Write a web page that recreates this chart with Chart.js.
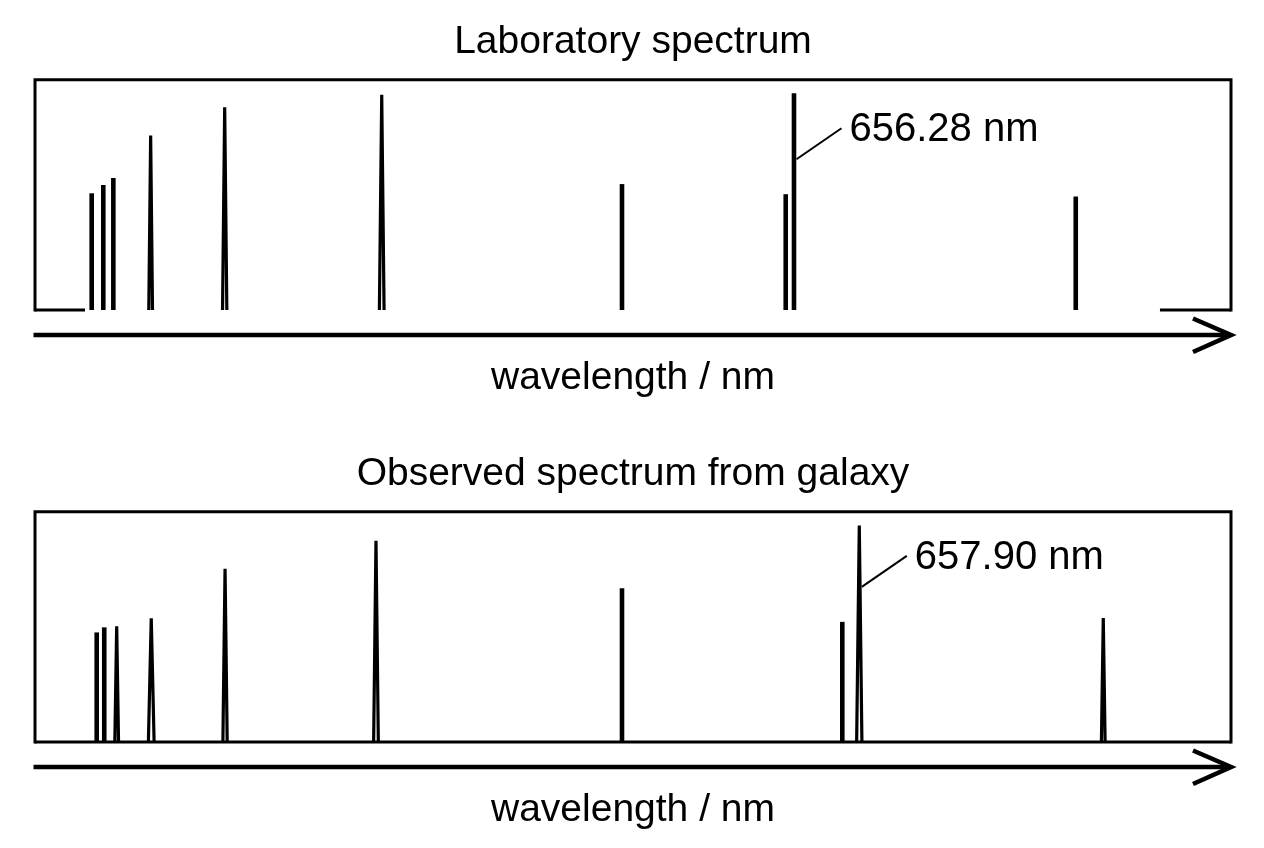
<!DOCTYPE html>
<html>
<head>
<meta charset="utf-8">
<script src="https://cdn.jsdelivr.net/npm/chart.js@4/dist/chart.umd.min.js"></script>
<style>
  html, body { margin: 0; padding: 0; background: #ffffff; overflow: hidden; }
  canvas { position: absolute; left: 0; }
  #labCanvas { top: 0; }
  #obsCanvas { top: 432px; }
</style>
</head>
<body>
<canvas id="labCanvas" width="1264" height="432"></canvas>
<canvas id="obsCanvas" width="1264" height="416"></canvas>
<script>
// ---------- data (schematic wavelength axis: 0 = left edge, 100 = right edge) ----------
const labTitle = "Laboratory spectrum";
const obsTitle = "Observed spectrum from galaxy";
const axisLabel = "wavelength / nm";

const labPositions = [4.74, 5.71, 6.55, 9.67, 15.86, 28.99, 49.08, 62.77, 63.46, 87.02];
const labIntensity = [0.507, 0.543, 0.573, 0.758, 0.881, 0.935, 0.547, 0.503, 0.942, 0.493];
const labHalfWidth = [0, 0, 0, 0.155, 0.18, 0.196, 0, 0, 0, 0];
const labBaselineSegments = [[0, 4.18], [94.06, 100]];
const labMarkedIndex = 8;
const labMarkedLabel = "656.28 nm";
const labMarkedAt = 0.655;

const obsPositions = [5.16, 5.79, 6.83, 9.72, 15.89, 28.51, 49.08, 67.50, 68.92, 89.32];
const obsIntensity = [0.476, 0.498, 0.503, 0.537, 0.752, 0.874, 0.668, 0.522, 0.940, 0.539];
const obsHalfWidth = [0, 0, 0.155, 0.24, 0.18, 0.196, 0, 0, 0.22, 0.155];
const obsBaselineSegments = [[0, 100]];
const obsMarkedIndex = 8;
const obsMarkedLabel = "657.90 nm";
const obsMarkedAt = 0.674;

// ---------- helpers ----------
const FONT = "'Liberation Sans', Arial, Helvetica, sans-serif";

function buildDatasets(positions, intensity, halfWidth, baselines) {
  const sets = [];
  baselines.forEach(seg => {
    sets.push({
      data: [{ x: seg[0], y: 0 }, { x: seg[1], y: 0 }],
      borderColor: '#000', borderWidth: 3, pointRadius: 0, clip: false, tension: 0
    });
  });
  positions.forEach((p, i) => {
    const w = halfWidth[i];
    const h = intensity[i];
    const data = w > 0
      ? [{ x: p - w, y: 0 }, { x: p, y: h }, { x: p + w, y: 0 }]
      : [{ x: p, y: 0 }, { x: p, y: h }];
    sets.push({
      data: data,
      borderColor: '#000',
      borderWidth: w > 0 ? 3.2 : 4.6,
      borderCapStyle: 'butt',
      borderJoinStyle: 'miter',
      pointRadius: 0, clip: false, tension: 0
    });
  });
  return sets;
}

const framePlugin = {
  id: 'frame',
  afterDatasetsDraw(chart) {
    const { ctx, chartArea: a } = chart;
    ctx.save();
    ctx.strokeStyle = '#000';
    ctx.lineWidth = 3;
    ctx.lineCap = 'square';
    ctx.beginPath();
    ctx.moveTo(a.left, a.bottom);
    ctx.lineTo(a.left, a.top);
    ctx.lineTo(a.right, a.top);
    ctx.lineTo(a.right, a.bottom);
    ctx.stroke();
    // axis arrow below the box
    const y = a.bottom + 25;
    ctx.lineWidth = 4.6;
    ctx.lineCap = 'butt';
    ctx.beginPath();
    ctx.moveTo(a.left - 1.5, y);
    ctx.lineTo(a.right - 2, y);
    ctx.stroke();
    ctx.lineJoin = 'miter';
    ctx.beginPath();
    ctx.moveTo(a.right - 38, y - 16.5);
    ctx.lineTo(a.right, y);
    ctx.lineTo(a.right - 38, y + 17);
    ctx.stroke();
    ctx.restore();
  }
};

function markerPlugin(pos, at, label) {
  return {
    id: 'marker',
    afterDatasetsDraw(chart) {
      const { ctx, scales } = chart;
      const x0 = scales.x.getPixelForValue(pos) + 2.5;
      const y0 = scales.y.getPixelForValue(at);
      const x1 = x0 + 45, y1 = y0 - 31;
      ctx.save();
      ctx.strokeStyle = '#000';
      ctx.lineWidth = 2;
      ctx.beginPath();
      ctx.moveTo(x0, y0);
      ctx.lineTo(x1, y1);
      ctx.stroke();
      ctx.fillStyle = '#000';
      ctx.font = "40px " + FONT;
      ctx.textAlign = 'left';
      ctx.textBaseline = 'alphabetic';
      ctx.fillText(label, x1 + 8, y1 + 13);
      ctx.restore();
    }
  };
}

function makeChart(id, title, positions, intensity, halfWidth, baselines, markIdx, markLabel, markAt, bottomPad) {
  return new Chart(document.getElementById(id), {
    type: 'line',
    data: { datasets: buildDatasets(positions, intensity, halfWidth, baselines) },
    options: {
      responsive: false,
      animation: false,
      events: [],
      layout: { padding: { left: 35, right: 33, top: 0, bottom: bottomPad } },
      plugins: {
        legend: { display: false },
        tooltip: { enabled: false },
        title: {
          display: true,
          text: title,
          color: '#000',
          font: { family: FONT, size: 39, weight: 'normal', lineHeight: 1.2 },
          padding: { top: 19, bottom: 14 }
        }
      },
      scales: {
        x: {
          type: 'linear', min: 0, max: 100,
          grid: { display: false, drawTicks: false },
          border: { display: false },
          ticks: { display: false },
          title: {
            display: true, text: axisLabel, color: '#000',
            font: { family: FONT, size: 39, weight: 'normal', lineHeight: 1.2 },
            padding: { top: 45.3, bottom: 0 }
          }
        },
        y: { display: false, min: 0, max: 1 }
      }
    },
    plugins: [framePlugin, markerPlugin(positions[markIdx], markAt, markLabel)]
  });
}

makeChart('labCanvas', labTitle, labPositions, labIntensity, labHalfWidth, labBaselineSegments,
  labMarkedIndex, labMarkedLabel, labMarkedAt, 29.9);
makeChart('obsCanvas', obsTitle, obsPositions, obsIntensity, obsHalfWidth, obsBaselineSegments,
  obsMarkedIndex, obsMarkedLabel, obsMarkedAt, 13.9);
</script>
</body>
</html>
